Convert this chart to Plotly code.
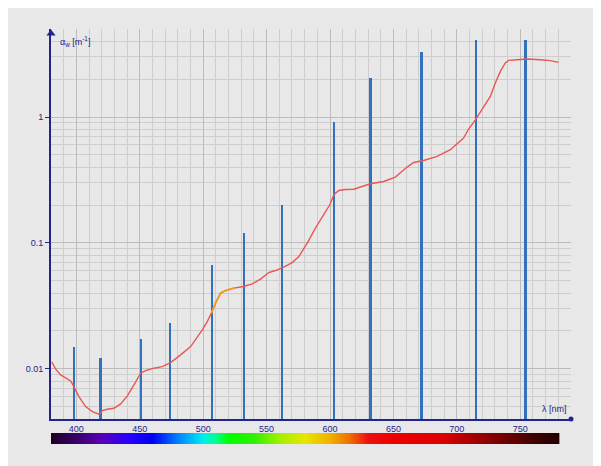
import numpy as np
import plotly.graph_objects as go

# ---- data ----
curve_wl = [380.5, 383.7, 387.6, 395.5, 398, 402, 407.3, 412.6, 417.8, 420.5, 424.4, 429.6,
            434.9, 440.2, 445.4, 450.7, 454.6, 461.1, 467.7, 474.3, 482.2, 490.1, 499.3,
            503.2, 506.4, 509.7, 513.7, 517.6, 524.2, 531.6, 538.7, 545.2, 551.7, 557,
            563.5, 570.2, 575.4, 582, 588.5, 595.1, 599.8, 603, 606.9, 612, 618.7, 631.8,
            642.3, 651.5, 660.8, 666, 673.8, 684.4, 694.9, 705.3, 709.3, 714.6, 721.1,
            726.4, 730.3, 734.3, 738.2, 740.8, 747.4, 755.3, 765.8, 773.6, 780.2]
curve_val = [0.0114, 0.00995, 0.00896, 0.00803, 0.00723, 0.00602, 0.00502, 0.00458, 0.00437,
             0.00466, 0.00478, 0.00487, 0.00527, 0.0061, 0.00746, 0.00924, 0.00969, 0.01013,
             0.01043, 0.01122, 0.01292, 0.01504, 0.0204, 0.02375, 0.0277, 0.0333, 0.040,
             0.0419, 0.0438, 0.0451, 0.0474, 0.0516, 0.0582, 0.0604, 0.0643, 0.0699, 0.078,
             0.0997, 0.1312, 0.1674, 0.201, 0.2413, 0.2611, 0.266, 0.267, 0.2951, 0.3078,
             0.3337, 0.4006, 0.4357, 0.4519, 0.4863, 0.5498, 0.6811, 0.803, 0.95, 1.2,
             1.458, 1.863, 2.303, 2.686, 2.817, 2.853, 2.89, 2.853, 2.802, 2.716]

bar_wl = [398, 419, 451, 474, 507, 532, 562, 603, 632, 672, 715, 754]
bar_val = [0.0148, 0.0123, 0.0172, 0.0231, 0.067, 0.12, 0.20, 0.92, 2.05, 3.26, 4.1, 4.1]

x_ticks = [400, 450, 500, 550, 600, 650, 700, 750]
y_ticks = [0.01, 0.1, 1]
y_ticktext = ["0.01", "0.1", "1"]

# colour strip stops (wavelength, colour)
strip_wl = [380, 400, 420, 440, 460, 480, 500, 510, 520, 540, 560, 580, 600, 615, 630, 650,
            690, 700, 730, 760, 780]
strip_col = ["#1b0020", "#3a006a", "#5a00b4", "#2a00ff", "#0000f0", "#0080ff", "#00eef0",
             "#00ff90", "#00ff00", "#30f000", "#a0f000", "#e6e600", "#f0b000", "#f07000",
             "#ee1010", "#ee0000", "#dd0000", "#c00000", "#800000", "#400000", "#220000"]

# ---- styling ----
NAVY = "#24248c"
BG = "#e8e8e8"
FONT = "Liberation Sans, Arial, sans-serif"

fig = go.Figure()

# colour strip
lo, hi = strip_wl[0], strip_wl[-1]
cscale = [[(w - lo) / (hi - lo), c] for w, c in zip(strip_wl, strip_col)]
sx = np.linspace(lo, hi, 401)
fig.add_trace(go.Heatmap(x=sx, y=[0], z=[sx], colorscale=cscale, showscale=False,
                         xaxis="x", yaxis="y2", hoverinfo="skip"))

# bars
fig.add_trace(go.Bar(x=bar_wl, y=bar_val, width=2.0, marker=dict(color="#3272bd", line=dict(width=0)),
                     xaxis="x", yaxis="y", showlegend=False))

# curve
fig.add_trace(go.Scatter(x=curve_wl, y=curve_val, mode="lines",
                         line=dict(color="#ea5650", width=1.4), showlegend=False))
seg = [(w, v) for w, v in zip(curve_wl, curve_val) if 505 <= w <= 530]
fig.add_trace(go.Scatter(x=[s[0] for s in seg], y=[s[1] for s in seg], mode="lines",
                         line=dict(color="#eca020", width=1.8), showlegend=False))

# axis end markers (arrow head on y axis, dot on x axis)
fig.add_trace(go.Scatter(x=[790], y=[0.004], mode="markers", cliponaxis=False,
                         marker=dict(color=NAVY, size=5, symbol="circle"), showlegend=False))
fig.add_trace(go.Scatter(x=[380], y=[4.6], mode="markers", cliponaxis=False,
                         marker=dict(color=NAVY, size=8, symbol="triangle-up"), showlegend=False))

minor_y = [m * 10 ** e for e in (-3, -2, -1, 0) for m in range(2, 10) if 0.004 <= m * 10 ** e <= 5]

fig.update_layout(
    width=593, height=458,
    margin=dict(l=43, r=30, t=21, b=22),
    paper_bgcolor=BG, plot_bgcolor=BG,
    bargap=0,
    font=dict(family=FONT, size=9, color=NAVY),
    xaxis=dict(range=[380, 790], anchor="y", tickvals=x_ticks, ticks="",
               showline=True, linecolor=NAVY, linewidth=2,
               showgrid=True, gridcolor="#bcbcbc", gridwidth=1.3,
               minor=dict(dtick=10, tick0=380, showgrid=True, gridcolor="#cecece", gridwidth=1.2),
               tickfont=dict(size=9, color=NAVY), zeroline=False),
    yaxis=dict(type="log", range=[np.log10(0.004), np.log10(5)], domain=[0.0602, 1],
               anchor="x", tickvals=y_ticks, ticktext=y_ticktext, ticks="outside",
               ticklen=4, tickcolor=NAVY, tickwidth=1,
               showline=True, linecolor=NAVY, linewidth=2,
               showgrid=True, gridcolor="#bcbcbc", gridwidth=1.3,
               minor=dict(tickvals=minor_y, showgrid=True, gridcolor="#cecece", gridwidth=1.2, ticks=""),
               tickfont=dict(size=9, color=NAVY), zeroline=False),
    yaxis2=dict(domain=[0, 0.0265], anchor="x", visible=False, range=[-0.5, 0.5]),
    annotations=[
        dict(xref="x domain", yref="y domain", x=0, y=1, xshift=7, yshift=-12,
             xanchor="left", yanchor="middle", showarrow=False,
             text="α<sub>w</sub> [m<sup>-1</sup>]", font=dict(size=9, color=NAVY)),
        dict(xref="x domain", yref="y domain", x=1, y=0, xshift=-2, yshift=10,
             xanchor="right", yanchor="middle", showarrow=False,
             text="λ [nm]", font=dict(size=9, color=NAVY)),
    ],
)

fig.write_html("out.html")
